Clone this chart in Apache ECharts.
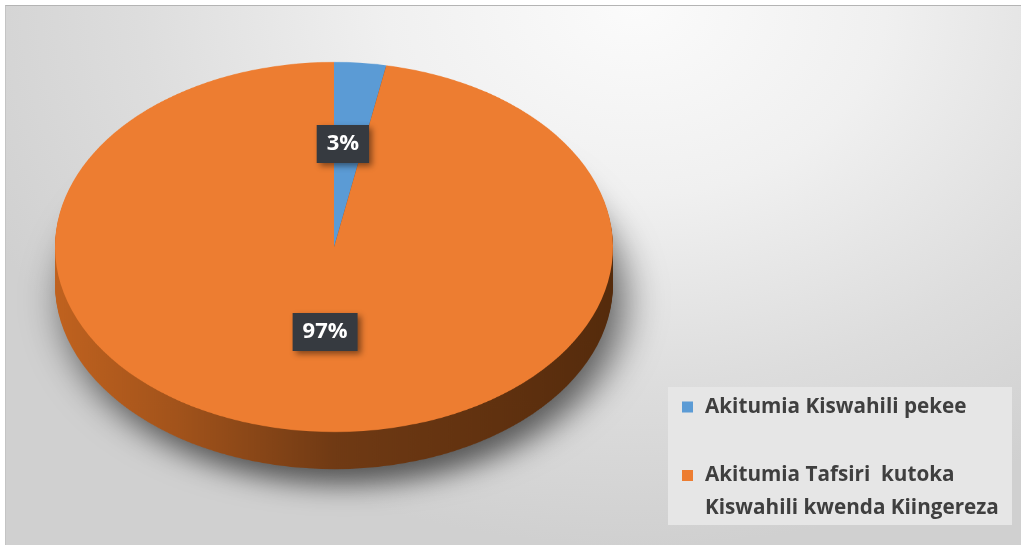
<!DOCTYPE html>
<html>
<head>
<meta charset="utf-8">
<script src="https://cdn.jsdelivr.net/npm/echarts@6/dist/echarts.min.js"></script>
<style>
  html, body { margin: 0; padding: 0; background: #ffffff; }
  #wrap { position: relative; width: 1021px; height: 545px; overflow: hidden; background: #ffffff; }
  #bg { position: absolute; left: 5px; top: 5px; width: 1016px; height: 540px;
        border-top: 1px solid #b4b4b4; border-left: 1px solid #c4c4c4;
        background: radial-gradient(ellipse 70% 100% at 62% 0%, #fbfbfb 0%, #f0f0f0 35%, #dddddd 70%, #d0d0d0 100%); }
  #pie3d { position: absolute; left: 0; top: 0; width: 1021px; height: 822px;
           transform: scaleY(0.66308); transform-origin: 0 0; }
  #front { position: absolute; left: 0; top: 0; width: 1021px; height: 545px; }
</style>
</head>
<body>
<div id="wrap">
  <div id="bg"></div>
  <div id="pie3d"></div>
  <div id="front"></div>
</div>
<script>
// ---- data ----
const categories = ['Akitumia Kiswahili pekee', 'Akitumia Tafsiri  kutoka\nKiswahili kwenda Kiingereza'];
const values = [3, 97];
const colors = ['#5b9bd5', '#ed7d31'];

// ---- 3D pie body (drawn circular, squashed to an ellipse by CSS) ----
const squash = 0.66308;
const cx = 334, cyTop = 247 / squash, radius = 279;
const depth = 56;

const sideColors = [
  '#2f5f8c',
  { type: 'linear', x: 0, y: 0, x2: 1, y2: 0, colorStops: [
    { offset: 0, color: '#c0621f' },
    { offset: 0.22, color: '#a2531b' },
    { offset: 0.5, color: '#703a14' },
    { offset: 1, color: '#552b0c' }
  ]}
];

function pieData(cols) {
  return categories.map((c, i) => ({ name: c, value: values[i], itemStyle: { color: cols[i] } }));
}

const layers = [];
for (let k = depth; k >= 2; k -= 2) {
  const s = {
    type: 'pie', silent: true, animation: false,
    center: [cx, cyTop + k], radius: radius, startAngle: 90, clockwise: true,
    label: { show: false }, labelLine: { show: false },
    itemStyle: { borderWidth: 0 },
    data: pieData(sideColors)
  };
  if (k === depth) {
    s.itemStyle = { borderWidth: 0, shadowBlur: 40, shadowColor: 'rgba(0,0,0,0.6)', shadowOffsetX: 10, shadowOffsetY: 24 };
  }
  layers.push(s);
}
layers.push({
  type: 'pie', silent: true, animation: false,
  center: [cx, cyTop], radius: radius, startAngle: 90, clockwise: true,
  label: { show: false }, labelLine: { show: false },
  itemStyle: { borderWidth: 0 },
  data: pieData(colors)
});

const body = echarts.init(document.getElementById('pie3d'), null, { renderer: 'canvas' });
body.setOption({ backgroundColor: 'transparent', animation: false, series: layers });

// ---- labels + legend (unsquashed) ----
const front = echarts.init(document.getElementById('front'), null, { renderer: 'canvas' });
const legendText = { fontFamily: 'Open Sans', fontWeight: 'bold', fontSize: 20.7, color: '#3f3f3f', lineHeight: 33, padding: [0, 0, 0, 7] };
front.setOption({
  backgroundColor: 'transparent',
  animation: false,
  graphic: [{
    type: 'rect', left: 668, top: 387, silent: true,
    shape: { width: 344, height: 138 },
    style: { fill: '#e6e6e6' }, z: 0
  }],
  legend: [{
    data: [{ name: categories[0], itemStyle: { color: colors[0] } }],
    left: 682, top: 390.5, padding: 0, icon: 'rect', itemWidth: 11, itemHeight: 11,
    selectedMode: false,
    textStyle: legendText
  }, {
    data: [{ name: categories[1], itemStyle: { color: colors[1] } }],
    left: 682, top: 426, padding: 0, icon: 'rect', itemWidth: 11, itemHeight: 11,
    selectedMode: false,
    formatter: name => ' \n' + name,
    textStyle: legendText
  }],
  series: [{
    type: 'pie', silent: true, animation: false,
    center: [cx, 238], radius: 183, startAngle: 90, clockwise: true,
    itemStyle: { color: 'rgba(0,0,0,0)', borderWidth: 0 },
    labelLine: { show: false },
    label: {
      show: true, position: 'inside', formatter: '{d}%',
      fontFamily: 'Open Sans', fontWeight: 'bold', fontSize: 22, color: '#ffffff',
      backgroundColor: '#363a40', padding: [6, 10, 6, 10], lineHeight: 26,
      shadowColor: 'rgba(0,0,0,0.45)', shadowBlur: 6, shadowOffsetX: 3, shadowOffsetY: 3
    },
    data: categories.map((c, i) => ({ name: c, value: values[i] }))
  }]
});
</script>
</body>
</html>
